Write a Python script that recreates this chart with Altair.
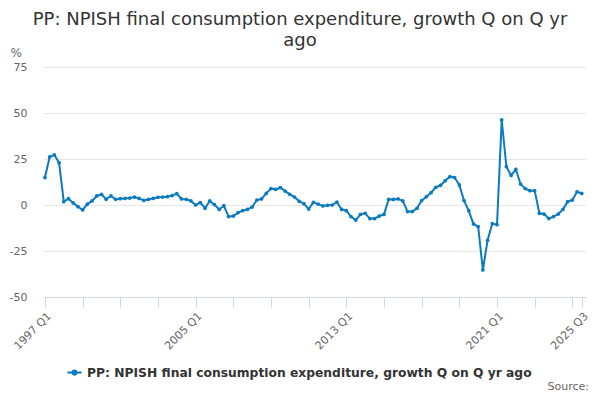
"""PP: NPISH final consumption expenditure, growth Q on Q yr ago (Altair)."""

import altair as alt
import pandas as pd

FIRST_YEAR = 1997
SERIES_NAME = "PP: NPISH final consumption expenditure, growth Q on Q yr ago"

# quarterly growth, % (1997 Q1 .. 2025 Q3)
growth = [
    14.9, 26.1, 27.2, 23.0, 1.8, 3.4, 1.1, -0.9,      # 1997-1998
    -2.7, 0.5, 2.2, 4.9, 5.8, 3.1, 4.9, 3.1,          # 1999-2000
    3.4, 3.6, 3.8, 4.3, 3.6, 2.5, 3.1, 3.6,           # 2001-2002
    4.2, 4.3, 4.5, 5.1, 6.2, 3.3, 3.1, 2.2,           # 2003-2004
    0.0, 1.3, -1.8, 2.2, 0.2, -2.4, -0.4, -6.3,       # 2005-2006
    -6.0, -4.2, -3.1, -2.4, -1.1, 2.7, 3.3, 6.3,      # 2007-2008
    8.9, 8.5, 9.4, 7.6, 5.8, 4.3, 2.0, 0.7,           # 2009-2010
    -2.2, 1.4, 0.5, -0.5, -0.2, 0.0, 1.6, -2.4,       # 2011-2012
    -3.1, -6.3, -8.2, -5.1, -4.5, -7.4, -7.4, -6.0,   # 2013-2014
    -5.1, 3.1, 3.0, 3.3, 2.2, -3.6, -3.6, -1.8,       # 2015-2016
    2.4, 4.5, 6.7, 9.6, 10.7, 13.2, 15.4, 14.9,       # 2017-2018
    10.9, 2.4, -3.1, -10.3, -11.8, -35.3, -19.2, -10.1,  # 2019-2020
    -10.7, 46.2, 20.8, 16.1, 19.4, 11.4, 8.9, 7.8,    # 2021-2022
    7.8, -4.5, -4.9, -7.4, -6.3, -4.9, -2.4, 1.8,     # 2023-2024
    2.7, 7.2, 6.3,                                    # 2025 Q1-Q3
]

quarters = [f"{FIRST_YEAR + i // 4} Q{i % 4 + 1}" for i in range(len(growth))]
labelled = [0, 32, 64, 96, len(growth) - 1]
tick_values = list(range(0, len(growth), 8)) + [len(growth) - 1]

BLUE = "#0b7bc1"
FONT = "DejaVu Sans"

df = pd.DataFrame({
    "idx": list(range(len(growth))),
    "quarter": quarters,
    "value": growth,
    "series": SERIES_NAME,
})

label_expr = (
    f"indexof({labelled}, datum.value) >= 0 ? "
    f"({FIRST_YEAR} + floor(datum.value / 4)) + ' Q' + (datum.value % 4 + 1) : ''"
)

x = alt.X(
    "idx:Q",
    scale=alt.Scale(domain=[-0.2, 114.9], nice=False, zero=False),
    axis=alt.Axis(
        values=tick_values, labelExpr=label_expr, title=None, grid=False,
        domainColor="#ccd6eb", tickColor="#ccd6eb", tickSize=10,
        labelAngle=-45, labelAlign="right", labelBaseline="top",
        labelPadding=3, labelFontSize=11, labelColor="#666666", labelFont=FONT,
        labelOverlap=False,
    ),
)
y = alt.Y(
    "value:Q",
    scale=alt.Scale(domain=[-50, 75], nice=False),
    axis=alt.Axis(
        values=[-50, -25, 0, 25, 50, 75], labelExpr="'' + datum.value",
        title="%", titleAngle=0,
        titleX=-34, titleY=-15, titleAlign="left", titleBaseline="middle",
        titleFontWeight="normal", titleFontSize=12, titleColor="#666666", titleFont=FONT,
        domain=False, ticks=False, gridColor="#e6e6e6",
        labelFontSize=11, labelColor="#666666", labelFont=FONT, labelPadding=17,
    ),
)

legend_symbol = "M-1,0H1M-0.3,0a0.3,0.3 0 1,0 0.6,0a0.3,0.3 0 1,0 -0.6,0"

line = alt.Chart(df).mark_line(
    strokeWidth=2,
    point=alt.OverlayMarkDef(filled=True, size=14),
).encode(
    x=x,
    y=y,
    color=alt.Color(
        "series:N",
        scale=alt.Scale(range=[BLUE]),
        legend=alt.Legend(
            title=None, orient="none", legendX=22, legendY=297,
            symbolType=legend_symbol, symbolSize=200, symbolStrokeWidth=2,
            labelFont=FONT, labelFontSize=12.3, labelFontWeight="bold",
            labelColor="#333333", labelLimit=600,
        ),
    ),
)

source = alt.Chart(pd.DataFrame({"t": ["Source:"]})).mark_text(
    align="right", baseline="middle", font=FONT, fontSize=11, color="#666666",
).encode(text="t:N", x=alt.value(545), y=alt.value(320))

chart = alt.layer(line, source).properties(
    width=542,
    height=230,
    autosize=alt.AutoSizeParams(type="none"),
    padding={"left": 36, "top": 59, "right": 6, "bottom": 95},
    title=alt.TitleParams(
        text=["PP: NPISH final consumption expenditure, growth Q on Q yr", "ago"],
        font=FONT, fontSize=18, fontWeight="normal", color="#333333",
        anchor="middle", dx=-15, offset=-4, lineHeight=21,
    ),
).configure_view(stroke=None)

chart.save("out.html", embed_options={"renderer": "svg", "actions": False})
